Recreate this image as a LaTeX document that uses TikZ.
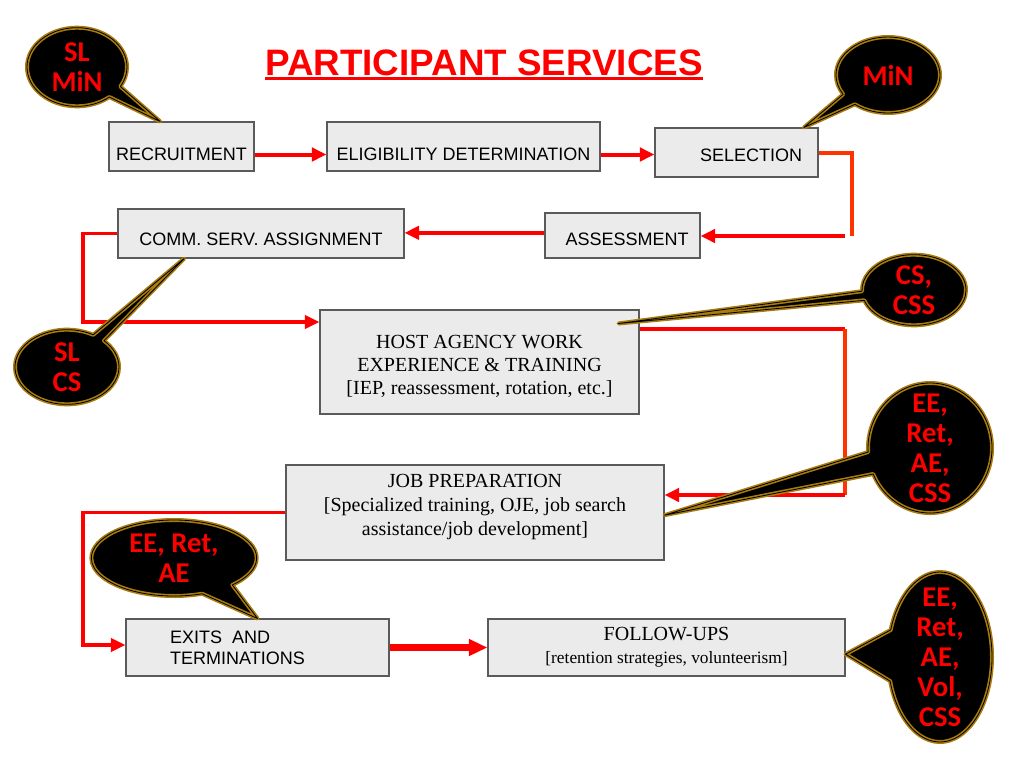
\documentclass[tikz,border=0pt]{standalone}
\usepackage{fontspec}
\setmainfont{Liberation Serif}
\setsansfont{Liberation Sans}
\newfontfamily\bubfont{Carlito}
\usepackage{tikz}
\usetikzlibrary{arrows.meta, positioning, shapes.callouts}
\definecolor{flowred}{RGB}{255,0,0}
\definecolor{turnred}{RGB}{255,51,0}
\definecolor{bubgold}{RGB}{168,124,16}
\definecolor{boxgray}{RGB}{235,235,235}
\definecolor{edgegray}{RGB}{90,90,90}

\begin{document}
\begin{tikzpicture}
    [x=0.75pt, y=-0.75pt,
     box/.style={draw=edgegray, fill=boxgray, line width=0.8pt, inner sep=2pt},
     sbox/.style={box, font=\sffamily\fontsize{13.5}{16}\selectfont},
     tbox/.style={box, align=center, font=\rmfamily\fontsize{15}{17.6}\selectfont},
     lowtext/.style={text height=#1, text depth=0pt},
     flow/.style={draw=flowred, line width=3pt, -{Triangle[length=11pt, width=10pt]}},
     turnline/.style={draw=turnred, line width=3pt},
     bubble/.style={ellipse callout, fill=black, draw=bubgold, line width=1.2pt,
                    double=black, double distance=0.6pt, line join=round},
     bubtext/.style={align=center, text=flowred, inner sep=0pt,
                     font=\bubfont\bfseries\fontsize{21.5}{22.5}\selectfont}]

    \useasboundingbox (0,0) rectangle (1024,768);

    \node[anchor=base, inner sep=0pt, text=flowred,
          font=\sffamily\bfseries\fontsize{27.6}{30}\selectfont] (title) at (484,75) {PARTICIPANT SERVICES};
    \draw[flowred, line width=2.2pt] ([yshift=-2.5pt]title.base west) -- ([yshift=-2.5pt]title.base east);

    % boxes
    \node[sbox, lowtext=21pt, minimum width=108.75pt, minimum height=36.75pt] (recruit) at (181.5,146.5) {RECRUITMENT};
    \node[sbox, lowtext=21pt, minimum width=204.75pt, minimum height=36.75pt] (elig) at (463.5,146.5) {ELIGIBILITY DETERMINATION};
    \node[sbox, lowtext=14pt, minimum width=122.25pt, minimum height=36.75pt] (select) at (736.5,152.5) {\hspace{22pt}SELECTION};
    \node[sbox, lowtext=15pt, minimum width=116.25pt, minimum height=33.75pt] (assess) at (622.5,235.5) {\hspace{7pt}ASSESSMENT};
    \node[sbox, lowtext=18pt, minimum width=214.5pt, minimum height=36.75pt] (comm) at (261,233.5) {COMM. SERV. ASSIGNMENT\hspace{13pt}};
    \node[tbox, minimum width=239.25pt, minimum height=78pt] (host) at (479.5,362)
        {\rule{0pt}{16.5pt}HOST AGENCY WORK\\EXPERIENCE \& TRAINING\\{[IEP, reassessment, rotation, etc.]}};
    \node[tbox, minimum width=283.5pt, minimum height=71.25pt, font=\rmfamily\fontsize{15}{18}\selectfont] (jobprep) at (475,512.5)
        {JOB PREPARATION\\{[Specialized training, OJE, job search}\\assistance/job development]\\[-6pt]};
    \node[sbox, align=left, minimum width=197.25pt, minimum height=42.75pt] (exits) at (257.5,647.5)
        {EXITS\ \ AND\\TERMINATIONS\hspace*{30pt}};
    \node[tbox, minimum width=267.75pt, minimum height=42.75pt] (follow) at (666.5,647.5)
        {FOLLOW-UPS\\{\fontsize{13}{15}\selectfont[retention strategies, volunteerism]}};

    % bends
    \coordinate (selturn) at (852,236);
    \coordinate (leftA) at (83,322);
    \coordinate (hostturn) at (845,495);
    \coordinate (leftB) at (83,645);

    % connectors
    \draw[flow] ([yshift=-6pt]recruit.east) -- ([yshift=-6pt]elig.west);
    \draw[flow] ([yshift=-6pt]elig.east) -- ([yshift=-6pt]elig.east -| select.west);
    \draw[turnline] (select.east) -| (selturn);
    \draw[flow] ([xshift=-5pt]selturn) -- (selturn -| assess.east);
    \draw[flow] ([yshift=2pt]assess.west) -- ([yshift=2pt]assess.west -| comm.east);
    \draw[flow, line width=2.5pt] (comm.west) -| (leftA) -- (leftA -| host.west);
    \draw[flowred, line width=3pt] ([yshift=-15pt]host.north east) -- ([yshift=-15pt]host.north east -| hostturn);
    \draw[turnline] ([yshift=-15pt]host.north east -| hostturn) -- (hostturn);
    \draw[flow] (hostturn) -- (hostturn -| jobprep.east);
    \draw[flow, line width=2.5pt] (jobprep.west) -| (leftB) -- (leftB -| exits.west);
    \draw[flow, line width=5.5pt, -{Triangle[length=14pt, width=12pt]}] (exits) -- (follow);

    % callouts
    \coordinate (tipA) at ([xshift=-16pt]recruit.north);
    \coordinate (tipB) at ([xshift=-11pt]select.north east);
    \coordinate (tipC) at ([xshift=-15.75pt, yshift=-10.5pt]host.north east);
    \coordinate (tipD) at ([xshift=50pt]comm.south west);
    \coordinate (tipE) at ([yshift=-2pt]jobprep.east);
    \coordinate (tipF) at (exits.north);
    \coordinate (tipG) at ([yshift=-5pt]follow.east);

    \node[bubble, minimum width=75pt, minimum height=59pt, callout absolute pointer=(tipA), callout pointer arc=20,
          label={[bubtext]center:{SL\\MiN}}] (bubA) at (77,67) {};
    \node[bubble, minimum width=78pt, minimum height=57pt, callout absolute pointer=(tipB), callout pointer arc=20,
          label={[bubtext]center:{MiN}}] (bubB) at (888,75) {};
    \node[bubble, minimum width=78pt, minimum height=53pt, callout absolute pointer=(tipC), callout pointer arc=15,
          label={[bubtext]center:{CS,\\CSS}}] (bubC) at (914,290) {};
    \node[bubble, minimum width=78pt, minimum height=56pt, callout absolute pointer=(tipD), callout pointer arc=15,
          label={[bubtext]center:{SL\\CS}}] (bubD) at (67,367) {};
    \node[bubble, minimum width=93pt, minimum height=97.5pt, callout absolute pointer=(tipE), callout pointer arc=20,
          label={[bubtext]center:{EE,\\Ret,\\AE,\\CSS}}] (bubE) at (930,448) {};
    \node[bubble, minimum width=124pt, minimum height=57pt, callout absolute pointer=(tipF), callout pointer arc=25,
          label={[bubtext]center:{EE, Ret,\\AE}}] (bubF) at (174,558) {};
    \node[bubble, minimum width=78pt, minimum height=127.5pt, callout absolute pointer=(tipG), callout pointer arc=35,
          label={[bubtext]center:{EE,\\Ret,\\AE,\\Vol,\\CSS}}] (bubG) at (940,657) {};
\end{tikzpicture}
\end{document}
